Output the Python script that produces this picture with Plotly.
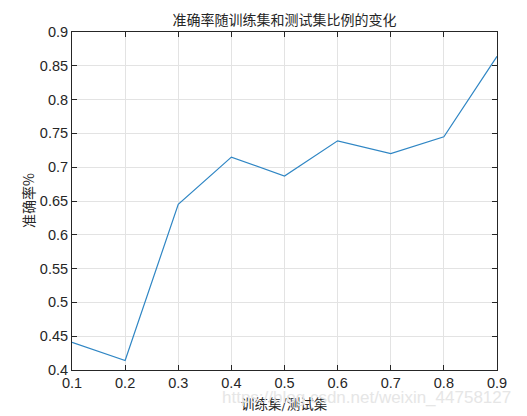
import plotly.graph_objects as go

ratio = [0.1, 0.2, 0.3, 0.4, 0.5, 0.6, 0.7, 0.8, 0.9]
accuracy = [0.441, 0.414, 0.645, 0.715, 0.687, 0.739, 0.720, 0.745, 0.864]

x_ticks = [0.1, 0.2, 0.3, 0.4, 0.5, 0.6, 0.7, 0.8, 0.9]
x_tick_labels = ["0.1", "0.2", "0.3", "0.4", "0.5", "0.6", "0.7", "0.8", "0.9"]
y_ticks = [0.4, 0.45, 0.5, 0.55, 0.6, 0.65, 0.7, 0.75, 0.8, 0.85, 0.9]
y_tick_labels = ["0.4", "0.45", "0.5", "0.55", "0.6", "0.65", "0.7", "0.75", "0.8", "0.85", "0.9"]

title_text = "准确率随训练集和测试集比例的变化"
x_title = "训练集/测试集"
y_title = "准确率%"
watermark = "https://blog.csdn.net/weixin_44758127"

cjk = "Noto Sans CJK SC"
text_color = "#262626"
tick_font = dict(family="Liberation Sans, Arial", size=14.5, color=text_color)

fig = go.Figure()
fig.add_trace(go.Scatter(x=ratio, y=accuracy, mode="lines",
                         line=dict(color="#2f86c4", width=1.2), showlegend=False))

axis_common = dict(
    showline=True, linecolor=text_color, linewidth=1, mirror="ticks",
    ticks="inside", ticklen=5, tickcolor=text_color,
    showgrid=True, gridcolor="#e3e3e3", gridwidth=1,
    zeroline=False, tickfont=tick_font, automargin=False,
)

fig.update_layout(
    width=527, height=416,
    margin=dict(l=72, r=30, t=32, b=46),
    paper_bgcolor="white", plot_bgcolor="white",
    title=dict(text=title_text, x=0.5, xref="paper", xanchor="center", y=0.952, yanchor="middle",
               font=dict(family=cjk, size=14, color=text_color)),
    xaxis=dict(range=[0.1, 0.9], tickvals=x_ticks, ticktext=x_tick_labels, **axis_common),
    yaxis=dict(range=[0.4, 0.9], tickvals=y_ticks, ticktext=y_tick_labels, **axis_common),
)

fig.add_annotation(text=x_title, xref="paper", yref="paper", x=0.5, y=-0.098,
                   xanchor="center", yanchor="middle", showarrow=False,
                   font=dict(family=cjk, size=13.5, color=text_color))
fig.add_annotation(text=y_title, xref="paper", yref="paper", x=-0.1035, y=0.5,
                   xanchor="center", yanchor="middle", textangle=-90, showarrow=False,
                   font=dict(family=cjk, size=14, color=text_color))
fig.add_annotation(text=watermark, xref="paper", yref="paper", x=1.038, y=-0.08,
                   xanchor="right", yanchor="middle", showarrow=False,
                   font=dict(family="Liberation Sans, Arial", size=17, color="#e6e6e6"))

# remove the page's default body margin so the 527x416 figure fills the window exactly
fig.write_html("out.html", config={"displayModeBar": False},
               post_script="document.body.style.margin='0';document.body.style.overflow='hidden';")
